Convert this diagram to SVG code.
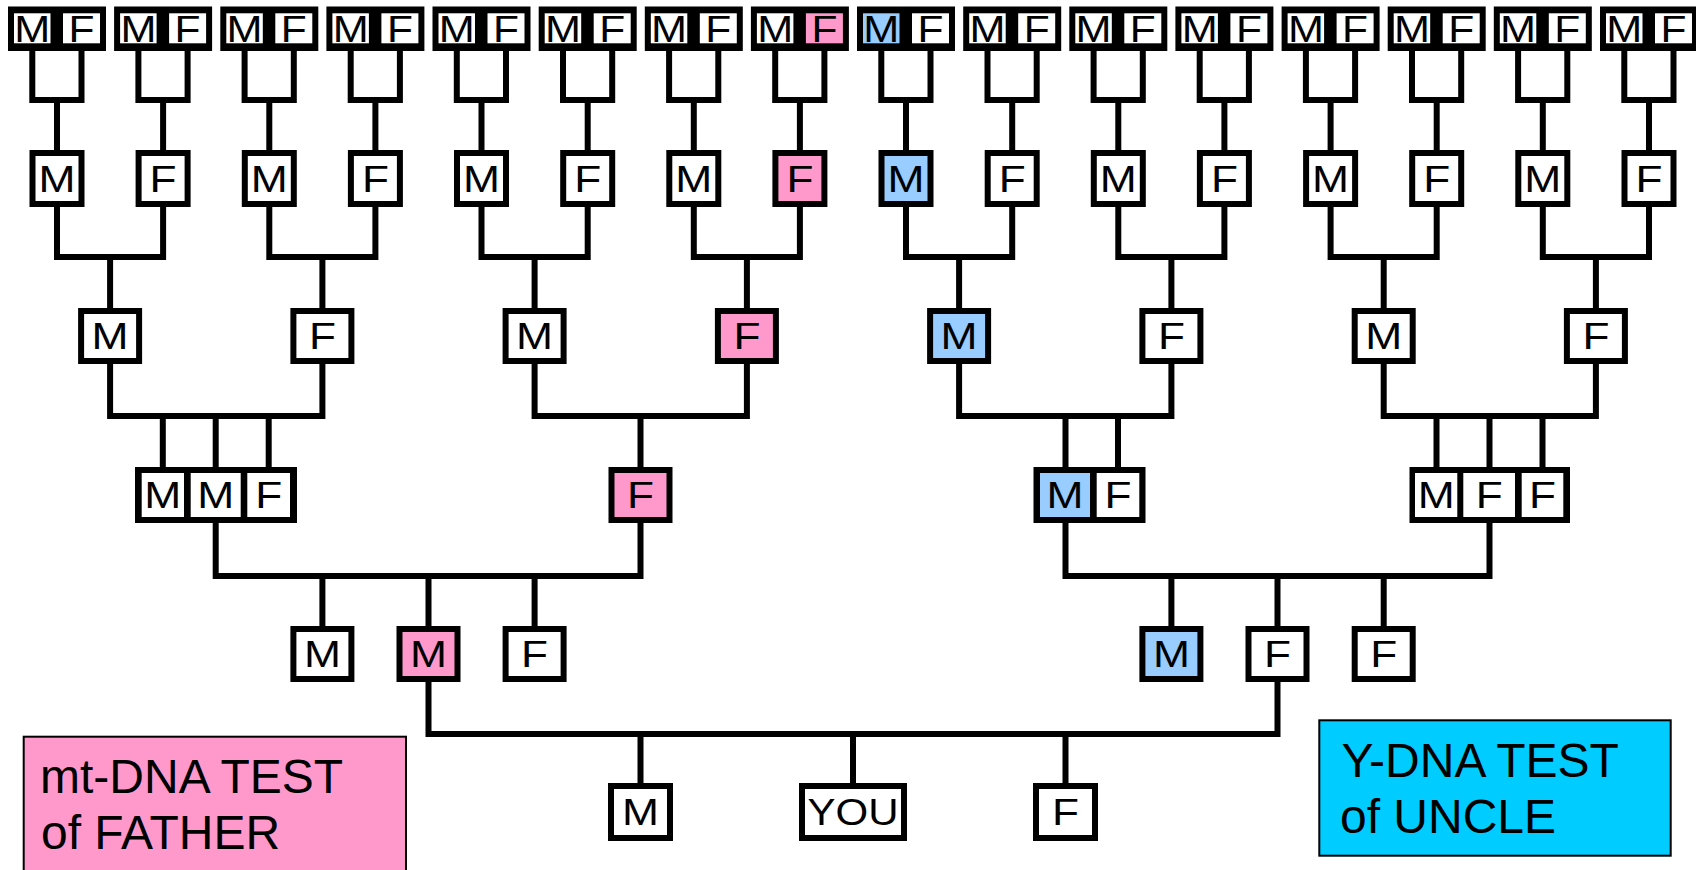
<svg xmlns="http://www.w3.org/2000/svg" width="1696" height="870" viewBox="0 0 1696 870">
<style>
.o{fill:#000}
.w{fill:#fff}
.p{fill:#FF99CC}
.b{fill:#99CCFF}
text{font-family:"Liberation Sans",Arial,Helvetica,sans-serif;fill:#000}
.t text{font-size:36px;text-anchor:middle}
.c path{fill:none;stroke:#000;stroke-width:6;stroke-linejoin:miter;stroke-linecap:butt}
.lg{font-size:48px}
</style>
<rect x="0" y="0" width="1696" height="870" fill="#fff"/>
<g id="connectors" class="c">
<path d="M32.3,51V100H81.5V51M57,100V150"/>
<path d="M138.4,51V100H187.6V51M163.1,100V150"/>
<path d="M244.6,51V100H293.8V51M269.3,100V150"/>
<path d="M350.7,51V100H399.9V51M375.4,100V150"/>
<path d="M456.8,51V100H506V51M481.5,100V150"/>
<path d="M563,51V100H612.2V51M587.7,100V150"/>
<path d="M669.1,51V100H718.3V51M693.8,100V150"/>
<path d="M775.2,51V100H824.4V51M799.9,100V150"/>
<path d="M881.3,51V100H930.5V51M906,100V150"/>
<path d="M987.5,51V100H1036.7V51M1012.2,100V150"/>
<path d="M1093.6,51V100H1142.8V51M1118.3,100V150"/>
<path d="M1199.7,51V100H1248.9V51M1224.4,100V150"/>
<path d="M1305.9,51V100H1355.1V51M1330.6,100V150"/>
<path d="M1412,51V100H1461.2V51M1436.7,100V150"/>
<path d="M1518.1,51V100H1567.3V51M1542.8,100V150"/>
<path d="M1624.3,51V100H1673.5V51M1649,100V150"/>
<path d="M57,207V257H163.1V207M110.1,257V308"/>
<path d="M269.3,207V257H375.4V207M322.4,257V308"/>
<path d="M481.5,207V257H587.7V207M534.6,257V308"/>
<path d="M693.8,207V257H799.9V207M746.9,257V308"/>
<path d="M906,207V257H1012.2V207M959.1,257V308"/>
<path d="M1118.3,207V257H1224.4V207M1171.4,257V308"/>
<path d="M1330.6,207V257H1436.7V207M1383.7,257V308"/>
<path d="M1542.8,207V257H1649V207M1595.9,257V308"/>
<path d="M110.1,364V416H322.4V364M162.8,416V467M215.7,416V467M268.7,416V467"/>
<path d="M534.6,364V416H746.9V364M640.5,416V467"/>
<path d="M959.1,364V416H1171.4V364M1065.5,416V467M1118,416V467"/>
<path d="M1383.7,364V416H1595.9V364M1436.5,416V467M1489.5,416V467M1542.5,416V467"/>
<path d="M215.7,523V576H640.5V523M322.4,576V626M428.5,576V626M534.6,576V626"/>
<path d="M1065.5,523V576H1489.5V523M1171.4,576V626M1277.5,576V626M1383.7,576V626"/>
<path d="M428.5,682V734H1277.5V682M640.5,734V783M853,734V783M1065.5,734V783"/>
</g>
<g id="gen5" class="t">
<g id="p0"><rect class="o" x="8" y="6.5" width="98" height="44.5"/><rect class="w" x="14" y="13.3" width="36.5" height="30"/><rect class="w" x="63" y="13.3" width="37" height="30"/><text x="32.3" y="41.5" textLength="36" lengthAdjust="spacingAndGlyphs">M</text><text x="81.5" y="41.5" textLength="26" lengthAdjust="spacingAndGlyphs">F</text></g>
<g id="p1"><rect class="o" x="114.1" y="6.5" width="98" height="44.5"/><rect class="w" x="120.1" y="13.3" width="36.5" height="30"/><rect class="w" x="169.1" y="13.3" width="37" height="30"/><text x="138.4" y="41.5" textLength="36" lengthAdjust="spacingAndGlyphs">M</text><text x="187.6" y="41.5" textLength="26" lengthAdjust="spacingAndGlyphs">F</text></g>
<g id="p2"><rect class="o" x="220.3" y="6.5" width="98" height="44.5"/><rect class="w" x="226.3" y="13.3" width="36.5" height="30"/><rect class="w" x="275.3" y="13.3" width="37" height="30"/><text x="244.6" y="41.5" textLength="36" lengthAdjust="spacingAndGlyphs">M</text><text x="293.8" y="41.5" textLength="26" lengthAdjust="spacingAndGlyphs">F</text></g>
<g id="p3"><rect class="o" x="326.4" y="6.5" width="98" height="44.5"/><rect class="w" x="332.4" y="13.3" width="36.5" height="30"/><rect class="w" x="381.4" y="13.3" width="37" height="30"/><text x="350.7" y="41.5" textLength="36" lengthAdjust="spacingAndGlyphs">M</text><text x="399.9" y="41.5" textLength="26" lengthAdjust="spacingAndGlyphs">F</text></g>
<g id="p4"><rect class="o" x="432.5" y="6.5" width="98" height="44.5"/><rect class="w" x="438.5" y="13.3" width="36.5" height="30"/><rect class="w" x="487.5" y="13.3" width="37" height="30"/><text x="456.8" y="41.5" textLength="36" lengthAdjust="spacingAndGlyphs">M</text><text x="506" y="41.5" textLength="26" lengthAdjust="spacingAndGlyphs">F</text></g>
<g id="p5"><rect class="o" x="538.7" y="6.5" width="98" height="44.5"/><rect class="w" x="544.7" y="13.3" width="36.5" height="30"/><rect class="w" x="593.7" y="13.3" width="37" height="30"/><text x="563" y="41.5" textLength="36" lengthAdjust="spacingAndGlyphs">M</text><text x="612.2" y="41.5" textLength="26" lengthAdjust="spacingAndGlyphs">F</text></g>
<g id="p6"><rect class="o" x="644.8" y="6.5" width="98" height="44.5"/><rect class="w" x="650.8" y="13.3" width="36.5" height="30"/><rect class="w" x="699.8" y="13.3" width="37" height="30"/><text x="669.1" y="41.5" textLength="36" lengthAdjust="spacingAndGlyphs">M</text><text x="718.3" y="41.5" textLength="26" lengthAdjust="spacingAndGlyphs">F</text></g>
<g id="p7"><rect class="o" x="750.9" y="6.5" width="98" height="44.5"/><rect class="w" x="756.9" y="13.3" width="36.5" height="30"/><rect class="p" x="805.9" y="13.3" width="37" height="30"/><text x="775.2" y="41.5" textLength="36" lengthAdjust="spacingAndGlyphs">M</text><text x="824.4" y="41.5" textLength="26" lengthAdjust="spacingAndGlyphs">F</text></g>
<g id="p8"><rect class="o" x="857" y="6.5" width="98" height="44.5"/><rect class="b" x="863" y="13.3" width="36.5" height="30"/><rect class="w" x="912" y="13.3" width="37" height="30"/><text x="881.3" y="41.5" textLength="36" lengthAdjust="spacingAndGlyphs">M</text><text x="930.5" y="41.5" textLength="26" lengthAdjust="spacingAndGlyphs">F</text></g>
<g id="p9"><rect class="o" x="963.2" y="6.5" width="98" height="44.5"/><rect class="w" x="969.2" y="13.3" width="36.5" height="30"/><rect class="w" x="1018.2" y="13.3" width="37" height="30"/><text x="987.5" y="41.5" textLength="36" lengthAdjust="spacingAndGlyphs">M</text><text x="1036.7" y="41.5" textLength="26" lengthAdjust="spacingAndGlyphs">F</text></g>
<g id="p10"><rect class="o" x="1069.3" y="6.5" width="98" height="44.5"/><rect class="w" x="1075.3" y="13.3" width="36.5" height="30"/><rect class="w" x="1124.3" y="13.3" width="37" height="30"/><text x="1093.6" y="41.5" textLength="36" lengthAdjust="spacingAndGlyphs">M</text><text x="1142.8" y="41.5" textLength="26" lengthAdjust="spacingAndGlyphs">F</text></g>
<g id="p11"><rect class="o" x="1175.4" y="6.5" width="98" height="44.5"/><rect class="w" x="1181.4" y="13.3" width="36.5" height="30"/><rect class="w" x="1230.4" y="13.3" width="37" height="30"/><text x="1199.7" y="41.5" textLength="36" lengthAdjust="spacingAndGlyphs">M</text><text x="1248.9" y="41.5" textLength="26" lengthAdjust="spacingAndGlyphs">F</text></g>
<g id="p12"><rect class="o" x="1281.6" y="6.5" width="98" height="44.5"/><rect class="w" x="1287.6" y="13.3" width="36.5" height="30"/><rect class="w" x="1336.6" y="13.3" width="37" height="30"/><text x="1305.9" y="41.5" textLength="36" lengthAdjust="spacingAndGlyphs">M</text><text x="1355.1" y="41.5" textLength="26" lengthAdjust="spacingAndGlyphs">F</text></g>
<g id="p13"><rect class="o" x="1387.7" y="6.5" width="98" height="44.5"/><rect class="w" x="1393.7" y="13.3" width="36.5" height="30"/><rect class="w" x="1442.7" y="13.3" width="37" height="30"/><text x="1412" y="41.5" textLength="36" lengthAdjust="spacingAndGlyphs">M</text><text x="1461.2" y="41.5" textLength="26" lengthAdjust="spacingAndGlyphs">F</text></g>
<g id="p14"><rect class="o" x="1493.8" y="6.5" width="98" height="44.5"/><rect class="w" x="1499.8" y="13.3" width="36.5" height="30"/><rect class="w" x="1548.8" y="13.3" width="37" height="30"/><text x="1518.1" y="41.5" textLength="36" lengthAdjust="spacingAndGlyphs">M</text><text x="1567.3" y="41.5" textLength="26" lengthAdjust="spacingAndGlyphs">F</text></g>
<g id="p15"><rect class="o" x="1600" y="6.5" width="98" height="44.5"/><rect class="w" x="1606" y="13.3" width="36.5" height="30"/><rect class="w" x="1655" y="13.3" width="37" height="30"/><text x="1624.3" y="41.5" textLength="36" lengthAdjust="spacingAndGlyphs">M</text><text x="1673.5" y="41.5" textLength="26" lengthAdjust="spacingAndGlyphs">F</text></g>
</g>
<g id="gen4" class="t">
<g id="a0"><rect class="o" x="29.5" y="150" width="55" height="57"/><rect class="w" x="35.5" y="156" width="43" height="45"/><text x="57" y="191.5" textLength="37" lengthAdjust="spacingAndGlyphs">M</text></g>
<g id="a1"><rect class="o" x="135.6" y="150" width="55" height="57"/><rect class="w" x="141.6" y="156" width="43" height="45"/><text x="163.1" y="191.5" textLength="27" lengthAdjust="spacingAndGlyphs">F</text></g>
<g id="a2"><rect class="o" x="241.8" y="150" width="55" height="57"/><rect class="w" x="247.8" y="156" width="43" height="45"/><text x="269.3" y="191.5" textLength="37" lengthAdjust="spacingAndGlyphs">M</text></g>
<g id="a3"><rect class="o" x="347.9" y="150" width="55" height="57"/><rect class="w" x="353.9" y="156" width="43" height="45"/><text x="375.4" y="191.5" textLength="27" lengthAdjust="spacingAndGlyphs">F</text></g>
<g id="a4"><rect class="o" x="454" y="150" width="55" height="57"/><rect class="w" x="460" y="156" width="43" height="45"/><text x="481.5" y="191.5" textLength="37" lengthAdjust="spacingAndGlyphs">M</text></g>
<g id="a5"><rect class="o" x="560.2" y="150" width="55" height="57"/><rect class="w" x="566.2" y="156" width="43" height="45"/><text x="587.7" y="191.5" textLength="27" lengthAdjust="spacingAndGlyphs">F</text></g>
<g id="a6"><rect class="o" x="666.3" y="150" width="55" height="57"/><rect class="w" x="672.3" y="156" width="43" height="45"/><text x="693.8" y="191.5" textLength="37" lengthAdjust="spacingAndGlyphs">M</text></g>
<g id="a7"><rect class="o" x="772.4" y="150" width="55" height="57"/><rect class="p" x="778.4" y="156" width="43" height="45"/><text x="799.9" y="191.5" textLength="27" lengthAdjust="spacingAndGlyphs">F</text></g>
<g id="a8"><rect class="o" x="878.5" y="150" width="55" height="57"/><rect class="b" x="884.5" y="156" width="43" height="45"/><text x="906" y="191.5" textLength="37" lengthAdjust="spacingAndGlyphs">M</text></g>
<g id="a9"><rect class="o" x="984.7" y="150" width="55" height="57"/><rect class="w" x="990.7" y="156" width="43" height="45"/><text x="1012.2" y="191.5" textLength="27" lengthAdjust="spacingAndGlyphs">F</text></g>
<g id="a10"><rect class="o" x="1090.8" y="150" width="55" height="57"/><rect class="w" x="1096.8" y="156" width="43" height="45"/><text x="1118.3" y="191.5" textLength="37" lengthAdjust="spacingAndGlyphs">M</text></g>
<g id="a11"><rect class="o" x="1196.9" y="150" width="55" height="57"/><rect class="w" x="1202.9" y="156" width="43" height="45"/><text x="1224.4" y="191.5" textLength="27" lengthAdjust="spacingAndGlyphs">F</text></g>
<g id="a12"><rect class="o" x="1303.1" y="150" width="55" height="57"/><rect class="w" x="1309.1" y="156" width="43" height="45"/><text x="1330.6" y="191.5" textLength="37" lengthAdjust="spacingAndGlyphs">M</text></g>
<g id="a13"><rect class="o" x="1409.2" y="150" width="55" height="57"/><rect class="w" x="1415.2" y="156" width="43" height="45"/><text x="1436.7" y="191.5" textLength="27" lengthAdjust="spacingAndGlyphs">F</text></g>
<g id="a14"><rect class="o" x="1515.3" y="150" width="55" height="57"/><rect class="w" x="1521.3" y="156" width="43" height="45"/><text x="1542.8" y="191.5" textLength="37" lengthAdjust="spacingAndGlyphs">M</text></g>
<g id="a15"><rect class="o" x="1621.5" y="150" width="55" height="57"/><rect class="w" x="1627.5" y="156" width="43" height="45"/><text x="1649" y="191.5" textLength="27" lengthAdjust="spacingAndGlyphs">F</text></g>
</g>
<g id="gen3" class="t">
<g id="b0"><rect class="o" x="78.1" y="308" width="64" height="56"/><rect class="w" x="84.1" y="314" width="52" height="44"/><text x="110.1" y="349" textLength="37" lengthAdjust="spacingAndGlyphs">M</text></g>
<g id="b1"><rect class="o" x="290.4" y="308" width="64" height="56"/><rect class="w" x="296.4" y="314" width="52" height="44"/><text x="322.4" y="349" textLength="27" lengthAdjust="spacingAndGlyphs">F</text></g>
<g id="b2"><rect class="o" x="502.6" y="308" width="64" height="56"/><rect class="w" x="508.6" y="314" width="52" height="44"/><text x="534.6" y="349" textLength="37" lengthAdjust="spacingAndGlyphs">M</text></g>
<g id="b3"><rect class="o" x="714.9" y="308" width="64" height="56"/><rect class="p" x="720.9" y="314" width="52" height="44"/><text x="746.9" y="349" textLength="27" lengthAdjust="spacingAndGlyphs">F</text></g>
<g id="b4"><rect class="o" x="927.1" y="308" width="64" height="56"/><rect class="b" x="933.1" y="314" width="52" height="44"/><text x="959.1" y="349" textLength="37" lengthAdjust="spacingAndGlyphs">M</text></g>
<g id="b5"><rect class="o" x="1139.4" y="308" width="64" height="56"/><rect class="w" x="1145.4" y="314" width="52" height="44"/><text x="1171.4" y="349" textLength="27" lengthAdjust="spacingAndGlyphs">F</text></g>
<g id="b6"><rect class="o" x="1351.7" y="308" width="64" height="56"/><rect class="w" x="1357.7" y="314" width="52" height="44"/><text x="1383.7" y="349" textLength="37" lengthAdjust="spacingAndGlyphs">M</text></g>
<g id="b7"><rect class="o" x="1563.9" y="308" width="64" height="56"/><rect class="w" x="1569.9" y="314" width="52" height="44"/><text x="1595.9" y="349" textLength="27" lengthAdjust="spacingAndGlyphs">F</text></g>
</g>
<g id="gen2" class="t">
<g id="c0"><rect class="o" x="135" y="467" width="162" height="56"/><rect class="w" x="141.7" y="473" width="42.3" height="44"/><rect class="w" x="190.7" y="473" width="50" height="44"/><rect class="w" x="247.3" y="473" width="42.7" height="44"/><text x="162.8" y="508" textLength="37" lengthAdjust="spacingAndGlyphs">M</text><text x="215.7" y="508" textLength="37" lengthAdjust="spacingAndGlyphs">M</text><text x="268.7" y="508" textLength="27" lengthAdjust="spacingAndGlyphs">F</text></g>
<g id="c1"><rect class="o" x="608.5" y="467" width="64" height="56"/><rect class="p" x="614.5" y="473" width="52" height="44"/><text x="640.5" y="508" textLength="27" lengthAdjust="spacingAndGlyphs">F</text></g>
<g id="c2"><rect class="o" x="1033.5" y="467" width="112" height="56"/><rect class="b" x="1040" y="473" width="50" height="44"/><rect class="w" x="1096.7" y="473" width="42.6" height="44"/><text x="1065" y="508" textLength="37" lengthAdjust="spacingAndGlyphs">M</text><text x="1118" y="508" textLength="27" lengthAdjust="spacingAndGlyphs">F</text></g>
<g id="c3"><rect class="o" x="1409.5" y="467" width="160.5" height="56"/><rect class="w" x="1415" y="473" width="42.3" height="44"/><rect class="w" x="1463.3" y="473" width="51.7" height="44"/><rect class="w" x="1521.7" y="473" width="41.6" height="44"/><text x="1436.2" y="508" textLength="37" lengthAdjust="spacingAndGlyphs">M</text><text x="1489.2" y="508" textLength="27" lengthAdjust="spacingAndGlyphs">F</text><text x="1542.5" y="508" textLength="27" lengthAdjust="spacingAndGlyphs">F</text></g>
</g>
<g id="gen1" class="t">
<g id="d0"><rect class="o" x="290.4" y="626" width="64" height="56"/><rect class="w" x="296.4" y="632" width="52" height="44"/><text x="322.4" y="667" textLength="37" lengthAdjust="spacingAndGlyphs">M</text></g>
<g id="d1"><rect class="o" x="396.5" y="626" width="64" height="56"/><rect class="p" x="402.5" y="632" width="52" height="44"/><text x="428.5" y="667" textLength="37" lengthAdjust="spacingAndGlyphs">M</text></g>
<g id="d2"><rect class="o" x="502.6" y="626" width="64" height="56"/><rect class="w" x="508.6" y="632" width="52" height="44"/><text x="534.6" y="667" textLength="27" lengthAdjust="spacingAndGlyphs">F</text></g>
<g id="d3"><rect class="o" x="1139.4" y="626" width="64" height="56"/><rect class="b" x="1145.4" y="632" width="52" height="44"/><text x="1171.4" y="667" textLength="37" lengthAdjust="spacingAndGlyphs">M</text></g>
<g id="d4"><rect class="o" x="1245.5" y="626" width="64" height="56"/><rect class="w" x="1251.5" y="632" width="52" height="44"/><text x="1277.5" y="667" textLength="27" lengthAdjust="spacingAndGlyphs">F</text></g>
<g id="d5"><rect class="o" x="1351.7" y="626" width="64" height="56"/><rect class="w" x="1357.7" y="632" width="52" height="44"/><text x="1383.7" y="667" textLength="27" lengthAdjust="spacingAndGlyphs">F</text></g>
</g>
<g id="gen0" class="t">
<g id="sib-m"><rect class="o" x="608" y="783" width="65" height="58"/><rect class="w" x="614" y="789" width="53" height="46"/><text x="640.5" y="825" textLength="37" lengthAdjust="spacingAndGlyphs">M</text></g>
<g id="you"><rect class="o" x="799" y="783" width="108" height="58"/><rect class="w" x="805" y="789" width="96" height="46"/><text x="853" y="825" textLength="91" lengthAdjust="spacingAndGlyphs">YOU</text></g>
<g id="sib-f"><rect class="o" x="1033" y="783" width="65" height="58"/><rect class="w" x="1039" y="789" width="53" height="46"/><text x="1065.5" y="825" textLength="27" lengthAdjust="spacingAndGlyphs">F</text></g>
</g>
<g id="legend-mt">
<rect x="23.7" y="736.7" width="382.3" height="140" fill="#FF99CC" stroke="#000" stroke-width="2"/>
<text class="lg" x="40" y="793">mt-DNA TEST</text>
<text class="lg" x="41" y="849">of FATHER</text>
</g>
<g id="legend-y">
<rect x="1319.3" y="720.3" width="351.4" height="135.4" fill="#00CCFF" stroke="#000" stroke-width="2"/>
<text class="lg" x="1341.5" y="777">Y-DNA TEST</text>
<text class="lg" x="1340" y="833">of UNCLE</text>
</g>
</svg>
